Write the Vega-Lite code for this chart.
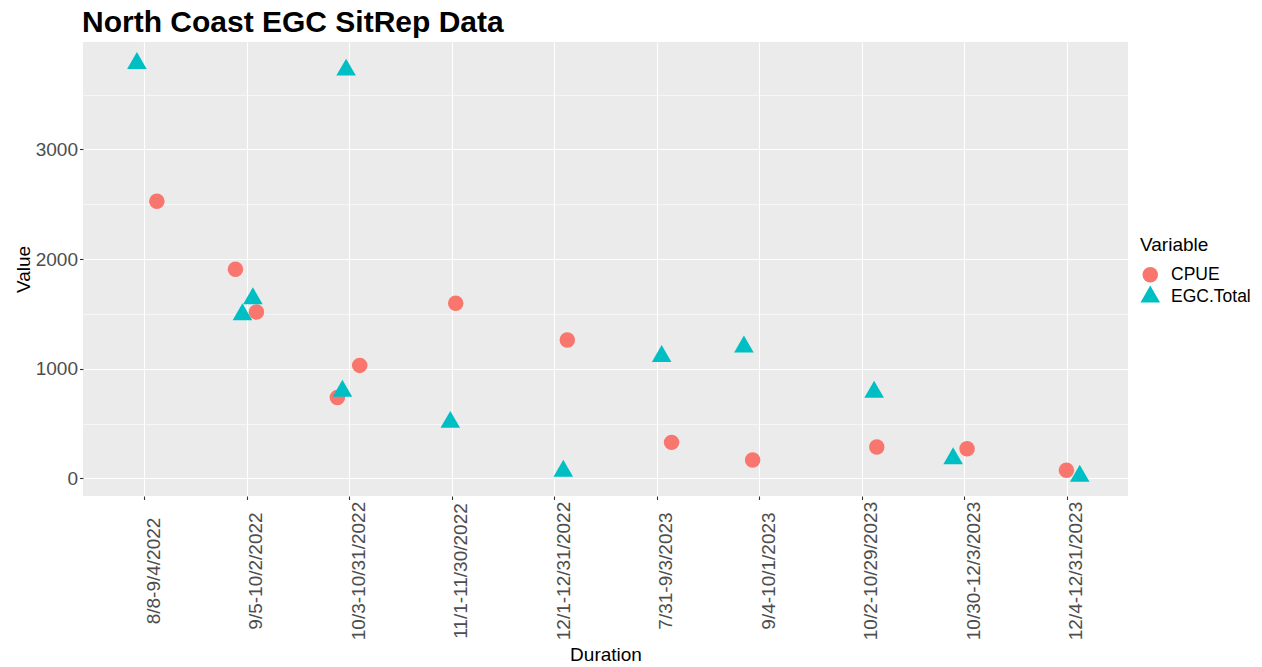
{
  "$schema": "https://vega.github.io/schema/vega-lite/v6.json",
  "autosize": {"type": "none"},
  "padding": {"left": 83, "top": 42, "right": 134, "bottom": 171},
  "width": 1045,
  "height": 454,
  "background": "white",
  "title": {"text": "North Coast EGC SitRep Data", "anchor": "start", "frame": "group", "fontSize": 30, "fontWeight": "bold", "color": "black", "font": "Liberation Sans", "offset": 9, "baseline": "alphabetic", "dx": -1, "dy": 29},
  "data": {"values": [
    {"Duration": "8/8-9/4/2022", "Variable": "CPUE", "Value": 2526, "pos": 1.121},
    {"Duration": "8/8-9/4/2022", "Variable": "EGC.Total", "Value": 3785, "pos": 0.926},
    {"Duration": "9/5-10/2/2022", "Variable": "CPUE", "Value": 1906, "pos": 1.888},
    {"Duration": "9/5-10/2/2022", "Variable": "CPUE", "Value": 1516, "pos": 2.093},
    {"Duration": "9/5-10/2/2022", "Variable": "EGC.Total", "Value": 1640, "pos": 2.058},
    {"Duration": "9/5-10/2/2022", "Variable": "EGC.Total", "Value": 1494, "pos": 1.956},
    {"Duration": "10/3-10/31/2022", "Variable": "CPUE", "Value": 1030, "pos": 3.101},
    {"Duration": "10/3-10/31/2022", "Variable": "CPUE", "Value": 738, "pos": 2.883},
    {"Duration": "10/3-10/31/2022", "Variable": "EGC.Total", "Value": 3724, "pos": 2.968},
    {"Duration": "10/3-10/31/2022", "Variable": "EGC.Total", "Value": 795, "pos": 2.932},
    {"Duration": "11/1-11/30/2022", "Variable": "CPUE", "Value": 1596, "pos": 4.038},
    {"Duration": "11/1-11/30/2022", "Variable": "EGC.Total", "Value": 512, "pos": 3.985},
    {"Duration": "12/1-12/31/2022", "Variable": "CPUE", "Value": 1261, "pos": 5.127},
    {"Duration": "12/1-12/31/2022", "Variable": "EGC.Total", "Value": 66, "pos": 5.088},
    {"Duration": "7/31-9/3/2023", "Variable": "CPUE", "Value": 328, "pos": 6.145},
    {"Duration": "7/31-9/3/2023", "Variable": "EGC.Total", "Value": 1112, "pos": 6.048},
    {"Duration": "9/4-10/1/2023", "Variable": "CPUE", "Value": 167, "pos": 6.936},
    {"Duration": "9/4-10/1/2023", "Variable": "EGC.Total", "Value": 1199, "pos": 6.851},
    {"Duration": "10/2-10/29/2023", "Variable": "CPUE", "Value": 285, "pos": 8.148},
    {"Duration": "10/2-10/29/2023", "Variable": "EGC.Total", "Value": 786, "pos": 8.122},
    {"Duration": "10/30-12/3/2023", "Variable": "CPUE", "Value": 270, "pos": 9.029},
    {"Duration": "10/30-12/3/2023", "Variable": "EGC.Total", "Value": 181, "pos": 8.893},
    {"Duration": "12/4-12/31/2023", "Variable": "CPUE", "Value": 73, "pos": 9.999},
    {"Duration": "12/4-12/31/2023", "Variable": "EGC.Total", "Value": 20, "pos": 10.129}
  ]},
  "mark": {"type": "point", "filled": true, "opacity": 1, "strokeWidth": 0, "size": 240},
  "encoding": {
    "x": {
      "field": "pos", "type": "quantitative", "title": "Duration",
      "scale": {"domain": [0.4, 10.6], "nice": false, "zero": false},
      "axis": {
        "values": [1, 2, 3, 4, 5, 6, 7, 8, 9, 10],
        "labelExpr": "['8/8-9/4/2022','9/5-10/2/2022','10/3-10/31/2022','11/1-11/30/2022','12/1-12/31/2022','7/31-9/3/2023','9/4-10/1/2023','10/2-10/29/2023','10/30-12/3/2023','12/4-12/31/2023'][datum.value - 1]",
        "labelAngle": 270, "labelAlign": "center", "labelBaseline": "top",
        "labelPadding": 71, "labelOverlap": false, "labelFlush": false,
        "titlePadding": 6
      }
    },
    "y": {
      "field": "Value", "type": "quantitative", "title": "Value",
      "scale": {"domain": [-161, 3979], "nice": false, "zero": false},
      "axis": {
        "values": [0, 500, 1000, 1500, 2000, 2500, 3000, 3500],
        "labelExpr": "datum.value % 1000 === 0 ? datum.label : ''",
        "format": "d",
        "gridWidth": {"condition": {"test": "datum.value % 1000 !== 0", "value": 0.55}, "value": 1.1},
        "tickOpacity": {"condition": {"test": "datum.value % 1000 !== 0", "value": 0}, "value": 1},
        "labelPadding": 2,
        "titlePadding": 2
      }
    },
    "color": {
      "field": "Variable", "type": "nominal", "title": "Variable",
      "scale": {"domain": ["CPUE", "EGC.Total"], "range": ["#F8766D", "#00BFC4"]}
    },
    "shape": {
      "field": "Variable", "type": "nominal", "title": "Variable",
      "scale": {"domain": ["CPUE", "EGC.Total"], "range": ["circle", "M0,-1.46L1.265,0.73L-1.265,0.73Z"]}
    }
  },
  "config": {
    "font": "Liberation Sans",
    "view": {"fill": "#EBEBEB", "stroke": null},
    "axis": {
      "domain": false,
      "grid": true, "gridColor": "white", "gridWidth": 1.1, "gridOpacity": 1,
      "ticks": true, "tickColor": "#333333", "tickSize": 3.5, "tickWidth": 1.1,
      "labelFont": "Liberation Sans", "labelFontSize": 19, "labelColor": "#4D4D4D",
      "titleFont": "Liberation Sans", "titleFontSize": 19, "titleFontWeight": "normal", "titleColor": "black"
    },
    "legend": {
      "orient": "none", "legendX": 1057, "legendY": 194,
      "padding": 0, "symbolOffset": 1.5,
      "titleFont": "Liberation Sans", "titleFontSize": 19, "titleFontWeight": "normal", "titleColor": "black",
      "titlePadding": 11,
      "labelFont": "Liberation Sans", "labelFontSize": 17.5, "labelColor": "black", "labelOffset": 12,
      "symbolSize": 240, "symbolStrokeWidth": 0, "symbolOpacity": 1, "rowPadding": 1
    }
  }
}
